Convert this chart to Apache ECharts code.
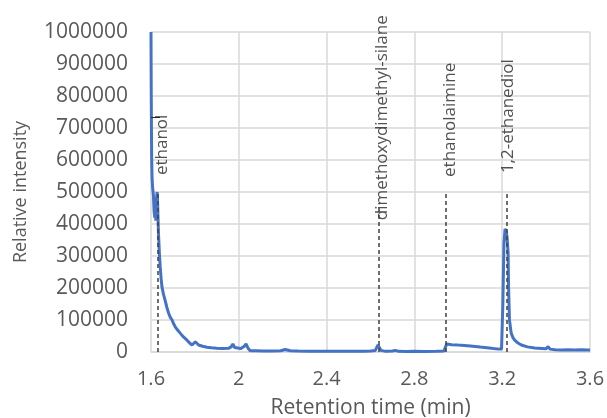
<!DOCTYPE html>
<html>
<head>
<meta charset="utf-8">
<script src="https://cdn.jsdelivr.net/npm/echarts@6/dist/echarts.min.js"></script>
<style>html,body{margin:0;padding:0;background:#fff}#c{width:607px;height:418px}</style>
</head>
<body>
<div id="c"></div>
<script>
// Retention time (min)
const times = [1.600,1.601,1.602,1.603,1.605,1.608,1.611,1.614,1.617,1.620,1.622,1.625,1.628,1.630,1.632,1.634,1.638,1.642,1.646,1.650,1.657,1.665,1.672,1.680,1.688,1.696,1.703,1.711,1.722,1.733,1.748,1.764,1.776,1.787,1.795,1.802,1.810,1.817,1.835,1.855,1.875,1.900,1.925,1.953,1.965,1.973,1.981,1.989,2.010,2.025,2.033,2.042,2.052,2.080,2.110,2.150,2.190,2.212,2.235,2.270,2.320,2.370,2.420,2.470,2.520,2.570,2.600,2.622,2.634,2.648,2.670,2.700,2.713,2.728,2.760,2.800,2.850,2.900,2.935,2.941,2.948,2.970,3.000,3.055,3.100,3.131,3.160,3.184,3.197,3.203,3.208,3.213,3.218,3.222,3.227,3.229,3.233,3.241,3.249,3.257,3.272,3.287,3.315,3.348,3.380,3.400,3.409,3.418,3.440,3.470,3.500,3.530,3.560,3.590,3.600];
// Relative intensity
const intensity = [1000000,820000,700000,610000,540000,510000,490000,440000,420000,450000,410000,480000,500000,470000,420000,372000,310000,266000,230000,203000,180000,160000,140000,122000,108000,100000,88000,78000,68000,59000,47000,37000,28000,22000,27000,32000,26000,22000,18000,15000,13000,11500,11000,11500,16000,25000,14000,9000,11000,18000,25000,12000,4000,4000,3500,3000,4000,8000,4000,3000,2500,2000,2500,2000,2500,2000,3000,5000,22000,5000,2000,3000,5000,2000,1500,2000,1500,2000,3000,15000,25000,23000,21500,19000,15500,13500,11000,9000,9500,150000,340000,385000,378000,360000,309000,203000,100000,59000,45000,37000,28000,22000,16000,12500,11000,10000,17000,9000,7000,6000,7000,6000,7000,6000,6000];

// Peak annotations
const peakNames = ['ethanol','dimethoxydimethyl-silane','ethanolaimine','1,2-ethanediol'];
const peakTimes = [1.632,2.637,2.945,3.222];
const peakLineTops = [500000,460000,500000,500000];
const labelTimes = [1.6515,2.653,2.964,3.228];
const labelBases = [553000,412000,547000,559000];

const xTicks = {min:1.6,max:3.6,interval:0.4};
const yTicks = {min:0,max:1000000,interval:100000};

const chart = echarts.init(document.getElementById('c'), null, {renderer:'canvas'});
const gray = '#595959';
chart.setOption({
  animation:false,
  grid:{left:151,right:17,top:32,bottom:66,containLabel:false,outerBoundsMode:'none'},
  xAxis:{
    type:'value', min:xTicks.min, max:xTicks.max, interval:xTicks.interval,
    name:'Retention time (min)', nameLocation:'middle', nameGap:46,
    nameTextStyle:{color:gray,fontFamily:'Open Sans',fontSize:21},
    axisLine:{show:true,lineStyle:{color:'#d9d9d9',width:1.5}},
    axisTick:{show:false},
    axisLabel:{color:gray,fontFamily:'Open Sans',fontSize:20,margin:17},
    splitLine:{show:true,lineStyle:{color:'#d9d9d9',width:1.5}}
  },
  yAxis:{
    type:'value', min:yTicks.min, max:yTicks.max, interval:yTicks.interval,
    name:'Relative intensity', nameLocation:'middle', nameGap:121,
    nameTextStyle:{color:gray,fontFamily:'Open Sans',fontSize:18},
    axisLine:{show:false},
    axisTick:{show:false},
    axisLabel:{color:gray,fontFamily:'Open Sans',fontSize:21,margin:23,formatter:v=>String(v)},
    splitLine:{show:true,lineStyle:{color:'#d9d9d9',width:1.5}}
  },
  series:[
    {
      type:'line', z:1, data:[], symbol:'none',
      markLine:{
        silent:true, symbol:'none', animation:false,
        label:{show:false},
        data: peakTimes.map((t,i)=>[
          {coord:[t,0],lineStyle:{type:[4,3],color:'#404040',width:1.5}},
          {coord:[t,peakLineTops[i]]}
        ]).concat([[
          {coord:[1.6,734000],lineStyle:{type:'solid',color:'#262626',width:1}},
          {coord:[1.641,734000]}
        ]])
      }
    },
    {
      type:'line', z:3, showSymbol:false, symbol:'none', sampling:null,
      data: times.map((t,i)=>[t,intensity[i]]),
      lineStyle:{color:'#4472C4',width:3},
      itemStyle:{color:'#4472C4'}
    },
    {
      type:'scatter', z:4, symbolSize:0, silent:true,
      data: labelTimes.map((t,i)=>({value:[t,labelBases[i]],name:peakNames[i]})),
      label:{
        show:true, position:'inside', rotate:90, align:'left', verticalAlign:'middle',
        formatter:p=>p.name, color:'#262626', fontFamily:'Open Sans', fontSize:17
      }
    }
  ]
});
</script>
</body>
</html>
